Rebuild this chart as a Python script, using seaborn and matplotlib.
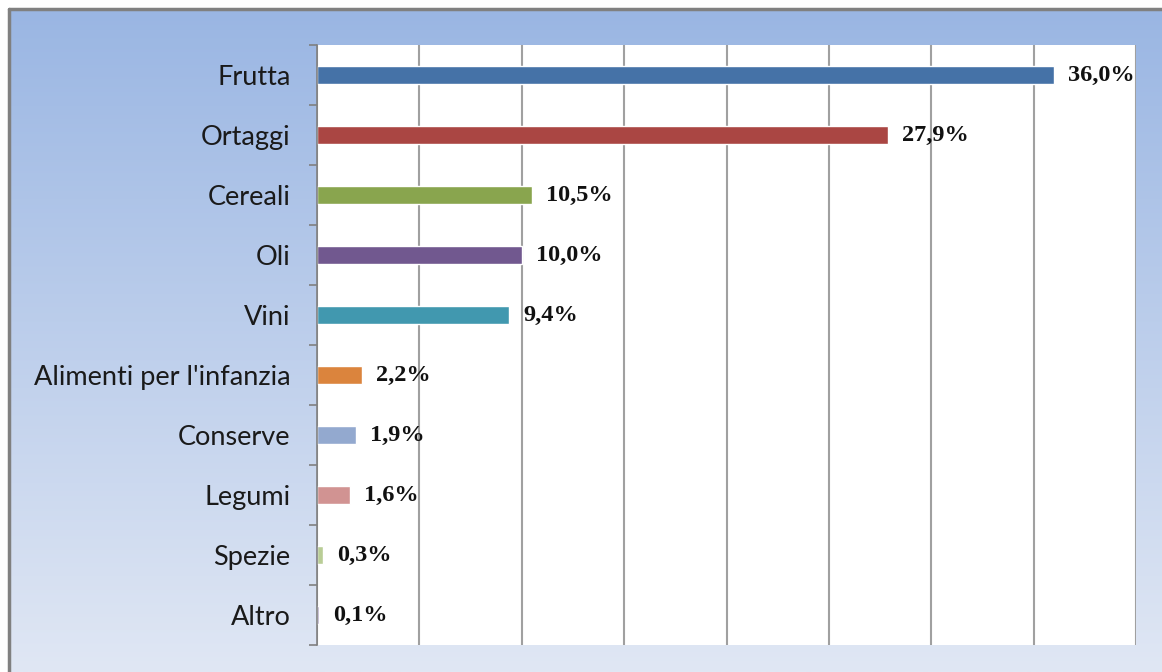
import numpy as np
import pandas as pd
import matplotlib
matplotlib.use("Agg")
import matplotlib.pyplot as plt
from matplotlib.colors import LinearSegmentedColormap
from matplotlib.ticker import MultipleLocator, FixedLocator
import seaborn as sns

# Dati
categorie = ["Frutta", "Ortaggi", "Cereali", "Oli", "Vini",
             "Alimenti per l'infanzia", "Conserve", "Legumi", "Spezie", "Altro"]
quote = [36.0, 27.9, 10.5, 10.0, 9.4, 2.2, 1.9, 1.6, 0.3, 0.1]
etichette = ["36,0%", "27,9%", "10,5%", "10,0%", "9,4%",
             "2,2%", "1,9%", "1,6%", "0,3%", "0,1%"]
colori = ["#4572A7", "#AA4643", "#89A54E", "#71588F", "#4198AF",
          "#DB843D", "#93A9CF", "#D19392", "#B9CD96", "#A99BBD"]

df = pd.DataFrame({"categoria": categorie, "quota": quote})

sns.set_style("white")
plt.rcParams["font.family"] = ["Lato", "DejaVu Sans"]

fig = plt.figure(figsize=(11.62, 6.72), dpi=100)

# sfondo sfumato
bg = fig.add_axes([10 / 1162, 0, 1 - 10 / 1162, 1 - 10 / 672], zorder=-5)
grad = np.linspace(0, 1, 256).reshape(-1, 1)
cmap = LinearSegmentedColormap.from_list("sf", ["#9AB6E3", "#E0E7F4"])
bg.imshow(grad, aspect="auto", cmap=cmap, extent=[0, 1, 0, 1], origin="upper")
bg.set_axis_off()
fig.add_artist(plt.Line2D([9 / 1162, 9 / 1162], [0, 1 - 9 / 672],
                          color="#808080", lw=2.5, transform=fig.transFigure))
fig.add_artist(plt.Line2D([9 / 1162, 1], [1 - 9 / 672, 1 - 9 / 672],
                          color="#808080", lw=2.5, transform=fig.transFigure))

ax = fig.add_axes([317 / 1162, 27 / 672, (1136 - 317) / 1162, (645 - 45) / 672])
ax.set_facecolor("white")

sns.barplot(data=df, y="categoria", x="quota", hue="categoria",
            palette=colori, orient="h", width=0.3, legend=False,
            saturation=1, ax=ax)

ax.set_xlim(0, 40)
ax.set_ylim(len(categorie) - 0.5, -0.5)
ax.xaxis.set_major_locator(MultipleLocator(5))
ax.grid(axis="x", color="#A0A0A0", lw=1.5)
ax.set_axisbelow(True)
ax.tick_params(axis="x", length=0, labelbottom=False)
ax.set_xlabel("")
ax.set_ylabel("")

# etichette asse y e tacche tra le categorie
ax.tick_params(axis="y", which="major", length=0, pad=19, labelsize=19.5,
               labelcolor="#1a1a1a")
ax.yaxis.set_minor_locator(FixedLocator(np.arange(-0.5, len(categorie), 1)))
ax.tick_params(axis="y", which="minor", length=6, width=1.2, color="#808080",
               direction="out", left=True)
for s in ["top", "bottom", "right"]:
    ax.spines[s].set_visible(False)
ax.spines["left"].set_color("#808080")
ax.spines["left"].set_linewidth(1.2)

for i, (v, t) in enumerate(zip(quote, etichette)):
    ax.annotate(t, (v, i), xytext=(10, 0), textcoords="offset points",
                va="center", ha="left", fontsize=17.5, fontweight="bold",
                family=["Liberation Serif", "DejaVu Serif"], color="#111111")

fig.savefig("out.png", dpi=100)
